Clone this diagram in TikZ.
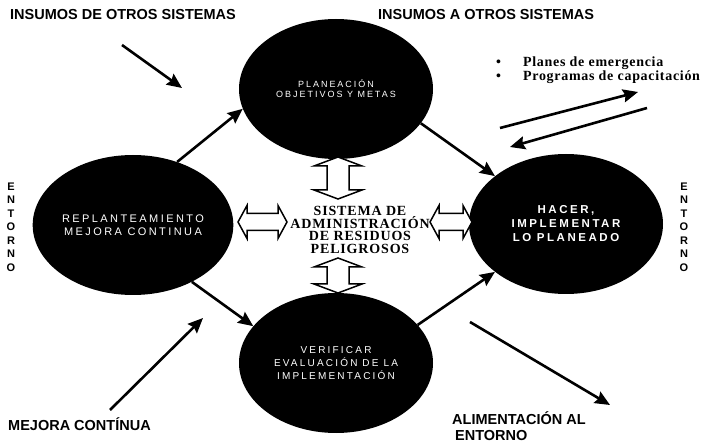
\documentclass[tikz,border=0pt]{standalone}
\usepackage{fontspec}
\setmainfont{Liberation Serif}
\setsansfont{Liberation Sans}
\newfontfamily\blobfont[LetterSpace=22]{Liberation Sans}
\newfontfamily\hubfont[LetterSpace=6]{Liberation Serif}
\newfontfamily\listfont[LetterSpace=5]{Liberation Serif}
\usetikzlibrary{shapes.geometric,arrows.meta}

\tikzset{
  blob/.style={ellipse, fill=black, draw=none, text=white, align=center,
    inner sep=0pt, minimum width=194pt, minimum height=140pt},
  flow/.style={line width=2.6pt, -{Stealth[length=15pt,width=13pt,inset=2pt]}},
  hollow/.style={draw=black, line width=1.5pt, fill=white, line join=miter},
  caption/.style={font=\sffamily\bfseries\fontsize{14.5}{16}\selectfont,
    anchor=west, inner sep=0pt, align=left},
  sideword/.style={font=\sffamily\bfseries\fontsize{11}{13.5}\selectfont,
    align=center, inner sep=0pt},
  hub/.style={font=\hubfont\bfseries\fontsize{14}{12.5}\selectfont,
    align=center, inner sep=0pt},
  bulletline/.style={font=\listfont\bfseries\fontsize{14}{14}\selectfont,
    anchor=west, inner sep=0pt},
  % hollow double arrow, horizontal: length, shaft half width, head half width, head length
  pics/dblarrowH/.style n args={4}{code={
    \draw[hollow] (0,0) -- (#4,#3) -- (#4,#2) -- (#1-#4,#2) -- (#1-#4,#3) -- (#1,0)
      -- (#1-#4,-#3) -- (#1-#4,-#2) -- (#4,-#2) -- (#4,-#3) -- cycle;
  }},
  % the same, vertical
  pics/dblarrowV/.style n args={4}{code={
    \draw[hollow] (0,0) -- (#3,#4) -- (#2,#4) -- (#2,#1-#4) -- (#3,#1-#4) -- (0,#1)
      -- (-#3,#1-#4) -- (-#2,#1-#4) -- (-#2,#4) -- (-#3,#4) -- cycle;
  }}
}

\begin{document}
\begin{tikzpicture}[x=1pt,y=-1pt]
\useasboundingbox[fill=white] (0,0) rectangle (710,446);

% the four stages of the cycle
\node[blob, font=\blobfont\fontsize{9}{10}\selectfont] (plan) at (336,89)
  {PLANEACIÓN\\OBJETIVOS Y METAS};
\node[blob, font=\blobfont\fontsize{11}{12.5}\selectfont] (redo) at (133,225)
  {REPLANTEAMIENTO\\MEJORA CONTINUA};
\node[blob, font=\blobfont\bfseries\fontsize{11.5}{14}\selectfont] (do) at (566,224)
  {HACER,\\IMPLEMENTAR\\LO PLANEADO};
\node[blob, font=\blobfont\fontsize{10}{13}\selectfont] (check) at (336,363)
  {VERIFICAR\\EVALUACIÓN DE LA\\IMPLEMENTACIÓN};

% the management system in the middle
\node[hub] (hub) at (360,230)
  {SISTEMA DE\\ADMINISTRACIÓN\\DE RESIDUOS\\PELIGROSOS};

% hollow two-way links between the hub and the stages
\pic at (238,222) {dblarrowH={49}{8.5}{16.5}{9}};
\pic at (430,222) {dblarrowH={42}{8.5}{16.5}{9}};
\pic at (338,157) {dblarrowV={42}{11}{24}{9}};
\pic at (338,258) {dblarrowV={35}{11}{24}{9}};

% cycle arrows
\draw[flow] (redo.55) -- (plan.192);
\draw[flow] (plan.-22) -- (do.146);
\draw[flow] (redo.-44) -- (check.156);
\draw[flow] (check.25) -- (do.214);

% arrows from and to the surroundings
\coordinate (inA) at (122,45);
\coordinate (inB) at (182,88);
\draw[flow] (inA) -- (inB);

\coordinate (outA) at (500,128);
\coordinate (outB) at (638,92);
\draw[flow] (outA) -- (outB);
\coordinate (backA) at (647,108);
\coordinate (backB) at (510,147);
\draw[flow] (backA) -- (backB);

\coordinate (mejA) at (110,410);
\coordinate (mejB) at (203,318);
\draw[flow] (mejA) -- (mejB);

\coordinate (aliA) at (470,322);
\coordinate (aliB) at (610,405);
\draw[flow] (aliA) -- (aliB);

% captions
\node[caption] (tin) at (10,15) {INSUMOS DE OTROS SISTEMAS};
\node[caption] (tout) at (378,15) {INSUMOS A OTROS SISTEMAS};
\node[caption] (tmej) at (8,424) {MEJORA CONTÍNUA};
\node[caption, anchor=base west, font=\sffamily\bfseries\fontsize{14.5}{15.5}\selectfont]
  (tali) at (452,440) {ALIMENTACIÓN AL\\\hspace{3pt}ENTORNO};

\node[bulletline] (b1) at (496,63) {•\hspace{22pt}Planes de emergencia};
\node[bulletline] (b2) at (496,77) {•\hspace{22pt}Programas de capacitación};

% the surroundings on both sides
\node[sideword] (envL) at (11,227) {E\\N\\T\\O\\R\\N\\O};
\node[sideword] (envR) at (684,227) {E\\N\\T\\O\\R\\N\\O};
\end{tikzpicture}
\end{document}
